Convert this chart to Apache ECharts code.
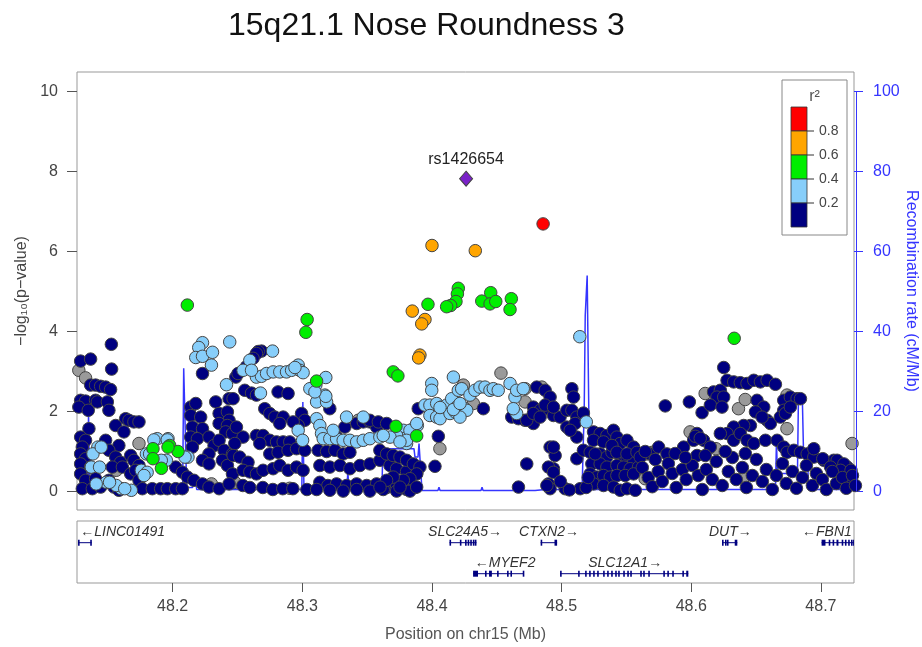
<!DOCTYPE html>
<html><head><meta charset="utf-8">
<script src="https://cdn.jsdelivr.net/npm/echarts@6/dist/echarts.min.js"></script>
<style>html,body{margin:0;padding:0;background:#fff}#c{width:922px;height:647px}</style>
</head><body><div id="c"></div><script>
const chartTitle = '15q21.1 Nose Roundness 3';
const leadName = 'rs1426654';
const xMin = 48.1262, xMax = 48.7255;
const yTicks = [0, 2, 4, 6, 8, 10];
const recTicks = [0, 20, 40, 60, 80, 100];
const xTicks = [48.2, 48.3, 48.4, 48.5, 48.6, 48.7];
const ldLabels = ['0.8', '0.6', '0.4', '0.2'];
const ldColorsTopDown = ['#FF0000', '#FFA500', '#00EE00', '#87CEFA', '#000080'];

// recombination rate [position Mb, cM/Mb]
const recomb = [[48.1262,1.0],[48.1328,1.0],[48.1344,1.0],[48.1351,19.5],[48.1359,1.0],[48.1367,1.5],[48.1791,1.5],[48.1799,0.5],
[48.2077,0.5],[48.2085,30.8],[48.2097,30.8],[48.2108,1.0],[48.2154,1.0],[48.2162,2.8],[48.2178,2.8],[48.2185,0.5],
[48.2996,0.5],[48.3004,22.4],[48.3012,1.5],[48.3058,1.5],[48.3066,0.7],[48.3344,0.7],[48.3351,5.0],[48.3359,0.7],
[48.3614,0.7],[48.3621,10.7],[48.3861,10.7],[48.3869,8.6],[48.3892,8.6],[48.3900,12.0],[48.3907,12.0],[48.3923,0.25],
[48.4046,0.25],[48.4054,1.1],[48.4062,0.25],[48.4378,0.25],[48.4386,1.1],[48.4394,0.25],[48.4795,0.25],[48.4873,0.5],
[48.5158,0.5],[48.5166,11],[48.5174,20],[48.5182,44],[48.5197,54],[48.5205,54],[48.5213,11],[48.5220,0.5],
[48.6649,0.5],[48.6657,12.8],[48.6664,4.5],[48.6819,4.5],[48.6826,22.5],[48.6857,22.5],[48.6865,10.8],[48.6896,10.0],
[48.6903,2.0],[48.6934,0.5],[48.7255,0.5]];

// SNPs by LD class: [position Mb, -log10 p]
const snpsNA = [[48.1276,3.03],[48.1328,2.84],[48.1740,1.20],[48.1565,0.53],[48.2299,0.19],[48.2479,0.23],[48.2903,0.08],
[48.3431,1.78],[48.4061,1.07],[48.4532,2.96],[48.4242,2.66],[48.4319,2.20],[48.4718,2.24],[48.4718,2.57],[48.4847,2.61],
[48.5991,1.49],[48.6107,2.45],[48.6364,2.07],[48.6416,2.30],[48.6738,2.41],[48.6738,1.57],[48.6190,1.07],[48.7240,1.20],
[48.6400,0.33],[48.5657,0.94],[48.5644,0.32],[48.5700,0.98]];

const snpsR2a = [ // r2 < 0.2
[48.1527,3.68],[48.1529,3.06],[48.1290,3.26],[48.1367,3.31],
[48.1367,2.66],[48.1405,2.66],[48.1444,2.63],[48.1483,2.61],[48.1521,2.55],
[48.1290,2.28],[48.1328,2.26],[48.1405,2.28],[48.1419,2.24],[48.1496,2.24],
[48.1276,2.11],[48.1349,2.03],[48.1508,2.03],
[48.1637,1.82],[48.1663,1.78],[48.1701,1.74],[48.1740,1.74],
[48.1560,1.65],[48.1624,1.49],[48.1354,1.57],
[48.1290,1.36],[48.1328,1.28],[48.1303,1.11],
[48.1483,1.28],[48.1585,1.15],[48.1508,1.03],
[48.1290,0.94],[48.1328,0.82],[48.1290,0.69],[48.1367,0.61],
[48.1560,0.86],[48.1598,0.73],[48.1534,0.61],[48.1612,0.61],
[48.1676,0.90],[48.1701,0.78],[48.1740,0.65],
[48.1290,0.44],[48.1328,0.28],[48.1405,0.32],[48.1508,0.28],
[48.1303,0.07],[48.1380,0.07],[48.1444,0.11],[48.1547,0.11],[48.1585,0.03],
[48.1676,0.44],[48.1714,0.53],
[48.1740,0.28],[48.1766,0.07],[48.1843,0.07],[48.1907,0.07],[48.1959,0.07],[48.2023,0.07],[48.2075,0.07],
[48.2230,2.95],[48.2139,2.11],[48.2139,1.90],[48.2178,2.20],[48.2216,1.86],
[48.2152,1.61],[48.2230,1.57],[48.2139,1.36],[48.2191,1.32],[48.2152,1.11],
[48.2280,1.36],[48.2319,1.15],[48.2280,0.94],[48.2230,0.78],[48.2280,0.69],
[48.2332,2.24],[48.2358,1.95],[48.2422,1.99],[48.2435,1.78],[48.2358,1.70],[48.2422,1.65],[48.2409,1.49],[48.2461,1.45],
[48.2435,2.32],
[48.2358,1.28],[48.2396,1.03],[48.2461,0.94],[48.2384,0.78],[48.2422,0.65],[48.2461,0.44],
[48.2023,0.61],[48.2075,0.48],[48.2114,0.36],[48.2164,0.28],[48.2230,0.19],[48.2280,0.11],[48.2358,0.07],[48.2435,0.19],
[48.2487,2.86],
[48.2685,3.51],[48.2660,3.50],[48.2646,3.45],[48.2620,3.33],[48.2569,3.12],[48.2504,2.95],[48.2466,2.32],
[48.2556,2.53],[48.2608,2.46],[48.2646,2.41],
[48.2813,2.49],[48.2890,2.45],
[48.2710,2.07],[48.2749,1.95],[48.2788,1.86],[48.2852,1.86],[48.2826,1.70],
[48.2994,1.95],[48.3019,1.78],[48.2968,1.65],[48.2929,1.74],
[48.2646,1.40],[48.2697,1.40],[48.2749,1.28],[48.2672,1.20],[48.2801,1.24],[48.2852,1.24],[48.2903,1.24],
[48.2492,1.61],[48.2543,1.36],[48.2479,1.20],[48.2466,0.90],[48.2517,0.86],[48.2581,0.73],
[48.2749,0.94],[48.2813,0.98],[48.2890,1.03],[48.2955,1.07],[48.3019,1.03],
[48.2543,0.53],[48.2595,0.49],[48.2646,0.44],[48.2697,0.53],[48.2775,0.57],[48.2826,0.65],[48.2890,0.53],[48.2955,0.61],[48.3006,0.53],
[48.2541,0.15],[48.2595,0.10],[48.2695,0.10],[48.2772,0.05],[48.2849,0.07],[48.2927,0.07],[48.3035,0.05],
[48.3212,2.07],[48.3122,1.03],[48.3187,1.00],[48.3251,1.03],[48.3315,0.94],[48.3367,0.98],
[48.3419,1.70],[48.3470,1.74],[48.3521,1.74],[48.3573,1.70],
[48.3135,0.65],[48.3212,0.61],[48.3290,0.65],[48.3367,0.57],[48.3444,0.65],[48.3521,0.69],[48.3598,0.78],[48.3676,0.65],[48.3727,0.57],[48.3804,0.50],[48.3882,0.45],
[48.3135,0.23],[48.3197,0.15],[48.3264,0.19],[48.3341,0.15],[48.3419,0.19],[48.3496,0.15],[48.3573,0.19],[48.3650,0.10],[48.3727,0.15],[48.3804,0.05],[48.3869,0.10],
[48.3110,0.05],[48.3212,0.03],[48.3315,0.01],[48.3419,0.05],[48.3521,0.01],[48.3624,0.05],[48.3727,0.01],[48.3830,0.01],
[48.3264,1.36],[48.3598,1.03],[48.3650,0.94],[48.3701,0.90],
[48.3573,1.61],[48.3328,1.61],
[48.3521,1.78],[48.3586,1.74],[48.3650,1.70],
[48.3753,0.86],[48.3804,0.78],[48.3856,0.69],[48.3907,0.61],[48.3882,0.44],[48.3830,0.32],[48.3779,0.28],[48.3701,0.36],[48.3650,0.28],[48.3599,0.11],[48.3753,0.11],[48.3882,0.11],
[48.3894,2.07],
[48.4049,1.38],[48.4023,0.63],[48.4731,0.69],[48.4911,1.11],[48.4950,0.90],[48.4937,0.57],[48.4667,0.11],[48.4898,0.19],[48.4911,0.07],[48.5117,0.82],[48.5168,1.03],[48.5143,0.07],
[48.4808,2.61],[48.4873,2.53],[48.4911,2.36],[48.5079,2.57],
[48.4782,2.11],[48.4834,2.03],[48.4886,2.07],[48.4937,1.90],[48.4988,1.86],[48.5040,2.03],[48.5079,2.03],[48.5117,1.86],[48.5168,1.96],
[48.4718,1.78],[48.4782,1.70],[48.5040,1.61],[48.5104,1.70],[48.5117,1.36],[48.5066,1.53],
[48.4937,1.11],[48.4898,0.61],[48.4937,0.48],
[48.4396,2.07],[48.4615,1.86],
[48.4886,0.15],[48.5027,0.07],
[48.5092,2.36],[48.4873,2.16],[48.4937,2.11],
[48.4667,1.82],[48.4731,1.78],[48.4782,1.95],[48.4834,1.86],
[48.5246,1.49],[48.5297,1.45],[48.5349,1.40],[48.5400,1.53],[48.5426,1.36],[48.5452,1.20],[48.5504,1.28],[48.5555,1.11],[48.5581,0.94],
[48.5246,1.28],[48.5220,0.98],[48.5297,0.94],[48.5349,0.86],[48.5388,0.98],[48.5452,0.90],[48.5504,0.86],[48.5555,0.78],
[48.5233,0.69],[48.5297,0.69],[48.5349,0.61],[48.5426,0.65],[48.5478,0.61],[48.5529,0.57],[48.5593,0.61],
[48.5220,0.44],[48.5272,0.36],[48.5323,0.40],[48.5375,0.36],[48.5426,0.40],[48.5490,0.40],[48.5555,0.44],
[48.5246,0.19],[48.5323,0.15],[48.5401,0.11],[48.5452,0.03],[48.5504,0.07],[48.5568,0.03],
[48.5323,1.24],[48.5388,1.15],[48.5259,0.94],[48.5426,0.98],[48.5504,0.94],[48.5581,0.98],[48.5606,0.86],[48.5683,0.94],[48.5748,1.11],[48.5812,0.94],[48.5941,1.11],[48.6044,0.90],
[48.5799,2.14],[48.5985,2.24],[48.6083,1.97],
[48.6172,2.49],[48.6224,2.53],[48.6198,2.36],[48.6250,2.36],
[48.6250,3.10],[48.6276,2.78],[48.6327,2.74],[48.6378,2.72],[48.6430,2.70],[48.6482,2.78],[48.6533,2.74],[48.6585,2.78],[48.6649,2.68],
[48.6147,2.16],[48.6237,2.11],
[48.6507,2.28],[48.6559,2.11],[48.6585,1.78],[48.6610,1.70],[48.6495,1.99],[48.6546,1.86],
[48.6456,1.65],[48.6404,1.65],[48.6327,1.61],[48.6276,1.45],[48.6327,1.28],[48.6378,1.45],[48.6430,1.28],[48.6482,1.20],[48.6572,1.28],
[48.6713,2.28],[48.6764,2.36],[48.6816,2.32],[48.6713,2.03],[48.6687,1.86],
[48.6044,1.45],[48.6095,1.28],[48.6018,1.28],[48.6147,1.11],[48.6224,1.45],[48.6031,1.38],[48.6069,1.33],
[48.6662,1.28],[48.6713,1.11],[48.6739,0.98],[48.6791,1.03],[48.6842,0.98],[48.6894,0.94],[48.6945,0.86],[48.7022,0.78],[48.7099,0.78],[48.7151,0.69],[48.7203,0.61],
[48.6842,2.32],[48.6726,1.95],[48.6764,2.11],
[48.6945,1.07],[48.7014,0.82],
[48.7125,0.78],[48.7177,0.69],[48.7151,0.53],[48.7074,0.61],[48.7232,0.53],[48.7206,0.28],
[48.5622,0.60],[48.5668,0.35],[48.5699,0.12],[48.5745,0.50],[48.5776,0.25],[48.5823,0.70],[48.5853,0.45],[48.5884,0.10],
[48.5931,0.55],[48.5961,0.30],[48.6008,0.65],[48.6054,0.40],[48.6085,0.05],[48.6116,0.55],[48.6162,0.30],[48.6193,0.75],
[48.6239,0.15],[48.6286,0.50],[48.6317,0.85],[48.6347,0.30],[48.6394,0.60],[48.6425,0.10],[48.6471,0.40],[48.6502,0.80],
[48.6548,0.25],[48.6579,0.55],[48.6625,0.05],[48.6656,0.40],[48.6703,0.70],[48.6733,0.20],[48.6780,0.50],[48.6811,0.08],
[48.6857,0.35],[48.6888,0.65],[48.6934,0.15],[48.6965,0.45],[48.7011,0.30],[48.7042,0.05],[48.7088,0.50],[48.7119,0.20],
[48.7166,0.35],[48.7196,0.08],[48.7243,0.40],[48.7266,0.15],
[48.5645,1.00],[48.5722,0.80],[48.5876,0.95],[48.5954,0.85],[48.6108,0.90],[48.6262,1.00],[48.6417,0.95],
[48.5189,0.10],[48.5205,0.35],[48.4990,0.25],[48.5060,0.04]];

const snpsR2b = [ // 0.2 - 0.4
[48.2230,3.72],[48.2201,3.60],[48.2178,3.35],[48.2230,3.38],[48.2307,3.48],[48.2299,3.16],[48.2440,3.74],[48.2415,2.67],
[48.1423,1.11],[48.1385,0.94],[48.1372,0.61],[48.1436,0.61],[48.1488,0.23],[48.1410,0.19],[48.1604,0.07],[48.1681,0.03],[48.1565,0.15],
[48.1881,1.32],[48.1964,1.32],[48.1951,0.78],[48.1797,0.94],[48.1758,0.53],[48.2118,0.86],
[48.1855,1.29],[48.1958,1.29],[48.1822,0.94],[48.1912,0.78],[48.2095,0.86],[48.1449,1.11],[48.1513,0.23],[48.1630,0.07],[48.1803,0.48],[48.1779,0.40],
[48.2770,3.51],[48.2595,3.28],[48.2543,3.03],[48.2646,2.86],[48.2685,2.88],[48.2724,2.95],[48.2775,2.99],[48.2826,2.99],[48.2878,2.99],[48.2917,3.03],[48.2968,3.16],[48.2981,3.03],[48.3006,2.97],[48.2677,2.46],[48.2968,1.53],[48.3002,1.28],
[48.2608,3.03],[48.2943,3.10],
[48.3110,1.82],[48.3174,2.41],[48.3071,2.57],[48.3104,2.66],[48.3110,2.24],[48.3187,2.24],[48.3341,1.86],[48.3470,1.86],
[48.3135,1.65],[48.3148,1.45],[48.3161,1.32],[48.3212,1.32],[48.3264,1.32],[48.3315,1.28],[48.3367,1.28],[48.3419,1.24],[48.3470,1.28],[48.3521,1.32],[48.3598,1.36],[48.3238,1.53],
[48.3727,1.45],[48.3779,1.53],[48.3843,1.45],[48.3779,1.32],[48.3804,1.20],[48.3869,1.61],[48.3887,1.65],
[48.3181,2.85],[48.3181,2.38],[48.3058,2.57],[48.3097,2.49],
[48.3830,1.53],[48.3727,1.40],[48.3676,1.36],[48.3624,1.40],[48.3804,1.28],[48.3753,1.24],[48.3882,1.70],
[48.3998,2.70],[48.3998,2.53],[48.4165,2.86],
[48.3945,2.16],[48.3984,2.16],[48.4036,2.20],[48.4074,2.11],[48.4113,2.16],[48.4152,2.32],[48.4190,2.11],[48.4229,2.11],[48.4254,2.07],[48.4203,2.53],[48.4229,2.57],[48.4293,2.41],[48.4331,2.53],[48.4370,2.61],[48.4409,2.61],[48.4447,2.53],[48.4473,2.57],[48.4511,2.53],[48.4602,2.70],[48.4640,2.36],[48.4653,2.53],[48.4653,1.95],[48.4704,2.57],[48.4627,2.07],
[48.3984,1.90],[48.4036,1.86],[48.4062,1.82],[48.4139,1.95],[48.4178,1.99],[48.4268,2.03],[48.4216,1.86],
[48.4062,2.10],[48.4165,2.05],[48.4216,2.20],
[48.5140,3.87],[48.5190,1.74]];

const snpsR2c = [ // 0.4 - 0.6
[48.2113,4.66],[48.3037,4.30],[48.3027,3.98],[48.3110,2.76],[48.1848,1.07],[48.1848,0.82],[48.1913,0.58],[48.1977,1.15],[48.2041,1.00],[48.1964,1.11],
[48.4203,5.08],[48.4196,4.94],[48.4185,4.75],[48.4144,4.65],[48.4113,4.62],[48.3969,4.68],[48.4384,4.76],[48.4453,4.97],[48.4448,4.69],[48.4492,4.75],[48.4612,4.82],[48.4602,4.55],
[48.3701,2.99],[48.3737,2.89],[48.3722,1.63],[48.3882,1.39],[48.6331,3.83]];

const snpsR2d = [ // 0.6 - 0.8
[48.4000,6.15],[48.4334,6.02],[48.3848,4.51],[48.3946,4.30],[48.3921,4.19],[48.3907,3.41],[48.3897,3.34]];

const snpsR2e = [[48.4857,6.69]]; // 0.8 - 1
const leadSnp = [[48.4263,7.82]];

// genes
const geneNames  = ['LINC01491','SLC24A5','CTXN2','DUT','FBN1','MYEF2','SLC12A1'];
const geneStart  = [48.1270, 48.4135, 48.4838, 48.6237, 48.7005, 48.4317, 48.4988];
const geneEnd    = [48.1375, 48.4343, 48.4965, 48.6355, 48.9380, 48.4705, 48.5977];
const geneStrand = ['-','+','+','+','-','-','+'];
const geneRow    = [0,0,0,0,0,1,1];
const geneLabelAt= [48.1614, 48.4255, 48.4903, 48.6301, 48.7046, 48.4564, 48.5490];
const geneExons = [
 [[48.1270,48.1276],[48.1364,48.1375]],
 [[48.4135,48.4143],[48.4215,48.4222],[48.4255,48.4261],[48.4275,48.4281],[48.4295,48.4301],[48.4315,48.4321],[48.4330,48.4343]],
 [[48.4838,48.4842],[48.4945,48.4965]],
 [[48.6237,48.6247],[48.6260,48.6266],[48.6275,48.6281],[48.6335,48.6355]],
 [[48.7005,48.7035],[48.7060,48.7066],[48.7090,48.7096],[48.7120,48.7135],[48.7160,48.7166],[48.7185,48.7191],[48.7210,48.7216],[48.7232,48.7238],[48.7248,48.7255]],
 [[48.4317,48.4355],[48.4409,48.4420],[48.4440,48.4462],[48.4502,48.4513],[48.4579,48.4586],[48.4605,48.4612],[48.4700,48.4705]],
 [[48.4988,48.4994],[48.5127,48.5132],[48.5181,48.5186],[48.5212,48.5217],[48.5243,48.5248],[48.5274,48.5279],[48.5320,48.5325],[48.5351,48.5356],[48.5382,48.5387],[48.5413,48.5418],[48.5436,48.5441],[48.5475,48.5480],[48.5506,48.5511],[48.5529,48.5534],[48.5606,48.5611],[48.5629,48.5634],[48.5668,48.5673],[48.5784,48.5789],[48.5815,48.5820],[48.5853,48.5858],[48.5931,48.5936],[48.5961,48.5977]]
];

const FONT = '"Liberation Sans", Arial, Helvetica, sans-serif';
const BLUE = '#3535ff';
const NAVY = '#000080';
const chart = echarts.init(document.getElementById('c'), null, {renderer: 'canvas'});

function ptSeries(name, data, color, z) {
  return {
    name, type: 'scatter', xAxisIndex: 0, yAxisIndex: 0, data, z,
    symbol: 'circle', symbolSize: 12.5, clip: false,
    itemStyle: {color, borderColor: '#444', borderWidth: 1, opacity: 1},
    emphasis: {disabled: true}
  };
}

function renderGene(params, api) {
  const i = params.dataIndex;
  const row = geneRow[i];
  const cs = params.coordSys;
  const p0 = api.coord([geneStart[i], row]);
  const p1 = api.coord([geneEnd[i], row]);
  const shapes = [{type: 'line', shape: {x1: p0[0], y1: p0[1], x2: p1[0], y2: p1[1]}, style: {stroke: NAVY, lineWidth: 1}}];
  geneExons[i].forEach(function (e) {
    const a = api.coord([e[0], row]);
    const b = api.coord([e[1], row]);
    shapes.push({type: 'rect', shape: {x: a[0], y: a[1] - 3, width: Math.max(b[0] - a[0], 1.6), height: 6}, style: {fill: NAVY}});
  });
  const lp = api.coord([geneLabelAt[i], row]);
  const txt = geneStrand[i] === '+' ? geneNames[i] + '\u2192' : '\u2190' + geneNames[i];
  return {
    type: 'group',
    children: [
      {type: 'group', children: shapes,
       clipPath: {type: 'rect', shape: {x: cs.x, y: cs.y, width: cs.width, height: cs.height}}},
      {type: 'text', x: lp[0], y: lp[1] - 4,
       style: {text: txt, align: 'center', verticalAlign: 'bottom', font: 'italic 14px ' + FONT, fill: '#333'}}
    ]
  };
}

const option = {
  animation: false,
  backgroundColor: '#fff',
  textStyle: {fontFamily: FONT},
  title: {text: chartTitle, left: 223, top: 5,
    textStyle: {fontSize: 32, fontWeight: 'normal', color: '#111', fontFamily: FONT}},
  grid: [
    {left: 77, top: 72, width: 777, height: 438, show: true, borderColor: '#999', borderWidth: 1, backgroundColor: 'transparent', outerBoundsMode: 'none'},
    {left: 77, top: 521, width: 777, height: 62, show: true, borderColor: '#999', borderWidth: 1, backgroundColor: 'transparent', outerBoundsMode: 'none'}
  ],
  xAxis: [
    {gridIndex: 0, type: 'value', min: xMin, max: xMax, show: false, splitLine: {show: false}},
    {gridIndex: 1, type: 'value', min: xMin, max: xMax, position: 'bottom',
     axisLine: {show: false, onZero: false}, splitLine: {show: false},
     axisTick: {show: true, length: 9, customValues: xTicks, lineStyle: {color: '#555'}},
     axisLabel: {customValues: xTicks, fontSize: 16, color: '#444', margin: 16, formatter: v => v.toFixed(1)},
     name: 'Position on chr15 (Mb)', nameLocation: 'middle', nameGap: 44,
     nameTextStyle: {fontSize: 16, color: '#555', verticalAlign: 'top'}}
  ],
  yAxis: [
    {gridIndex: 0, type: 'value', min: -0.4625, max: 10.4875, position: 'left',
     axisLine: {show: false, onZero: false}, splitLine: {show: false},
     axisTick: {show: true, length: 10, customValues: yTicks, lineStyle: {color: '#555'}},
     axisLabel: {customValues: yTicks, fontSize: 16, color: '#444', margin: 19},
     name: '\u2212log\u2081\u2080(p\u2212value)', nameLocation: 'middle', nameGap: 46, nameRotate: 90,
     nameTextStyle: {fontSize: 16, color: '#444'}},
    {gridIndex: 0, type: 'value', min: -4.625, max: 104.875, position: 'right',
     axisLine: {show: false, onZero: false}, splitLine: {show: false},
     axisTick: {show: true, length: 9, customValues: recTicks, lineStyle: {color: BLUE}},
     axisLabel: {customValues: recTicks, fontSize: 16, color: BLUE, margin: 19},
     name: 'Recombination rate (cM/Mb)', nameLocation: 'middle', nameGap: 49, nameRotate: -90,
     nameMoveOverlap: false,
     nameTextStyle: {fontSize: 16, color: BLUE}},
    {gridIndex: 1, type: 'value', min: -0.7, max: 1.3, inverse: true, show: false, splitLine: {show: false}}
  ],
  series: [
    {name: 'recomb', type: 'line', xAxisIndex: 0, yAxisIndex: 1, data: recomb, showSymbol: false, symbol: 'none',
     z: 2, lineStyle: {color: BLUE, width: 1.5}, emphasis: {disabled: true}},
    ptSeries('NA', snpsNA, '#9a9a9a', 3),
    ptSeries('r2<0.2', snpsR2a, NAVY, 4),
    ptSeries('0.2-0.4', snpsR2b, '#87CEFA', 5),
    ptSeries('0.4-0.6', snpsR2c, '#00EE00', 6),
    ptSeries('0.6-0.8', snpsR2d, '#FFA500', 7),
    ptSeries('0.8-1', snpsR2e, '#FF0000', 8),
    {name: 'lead', type: 'scatter', xAxisIndex: 0, yAxisIndex: 0, data: leadSnp, z: 9, clip: false,
     symbol: 'diamond', symbolSize: [13, 15],
     itemStyle: {color: '#7A22C8', borderColor: '#444', borderWidth: 1, opacity: 1},
     label: {show: true, position: 'top', distance: 3, formatter: leadName, fontSize: 16, color: '#222', fontFamily: FONT},
     emphasis: {disabled: true}},
    {name: 'genes', type: 'custom', xAxisIndex: 1, yAxisIndex: 2, renderItem: renderGene,
     data: geneNames.map((n, i) => [geneStart[i], geneEnd[i], geneRow[i]]),
     encode: {x: [0, 1], y: 2}, z: 5, clip: false}
  ]
};
chart.setOption(option);

// legend and right axis line (layout decorations)
const gx = chart.convertToPixel({xAxisIndex: 0}, xMax);
const rTop = chart.convertToPixel({yAxisIndex: 1}, recTicks[recTicks.length - 1]);
const rBot = chart.convertToPixel({yAxisIndex: 1}, recTicks[0]);
const lg = {x: 782, y: 80, w: 65, h: 155, barX: 791, barW: 16, barTop: 107, segH: 24};
const gfx = [
  {type: 'line', shape: {x1: gx + 2.5, y1: rTop, x2: gx + 2.5, y2: rBot}, style: {stroke: BLUE, lineWidth: 1}, z: 10},
  {type: 'rect', shape: {x: lg.x, y: lg.y, width: lg.w, height: lg.h}, style: {fill: '#fff', stroke: '#888', lineWidth: 1}, z: 20},
  {type: 'text', x: lg.x + lg.w / 2, y: lg.y + 17, style: {text: 'r\u00B2', align: 'center', verticalAlign: 'middle', font: '16px ' + FONT, fill: '#555'}, z: 21}
];
ldColorsTopDown.forEach(function (c, i) {
  gfx.push({type: 'rect', shape: {x: lg.barX, y: lg.barTop + i * lg.segH, width: lg.barW, height: lg.segH},
    style: {fill: c, stroke: '#333', lineWidth: 0.8}, z: 21});
});
ldLabels.forEach(function (t, i) {
  const yy = lg.barTop + (i + 1) * lg.segH;
  gfx.push({type: 'line', shape: {x1: lg.barX + lg.barW, y1: yy, x2: lg.barX + lg.barW + 7, y2: yy}, style: {stroke: '#333', lineWidth: 1}, z: 21});
  gfx.push({type: 'text', x: lg.barX + lg.barW + 12, y: yy, style: {text: t, align: 'left', verticalAlign: 'middle', font: '14px ' + FONT, fill: '#444'}, z: 21});
});
chart.setOption({graphic: gfx});
</script></body></html>
